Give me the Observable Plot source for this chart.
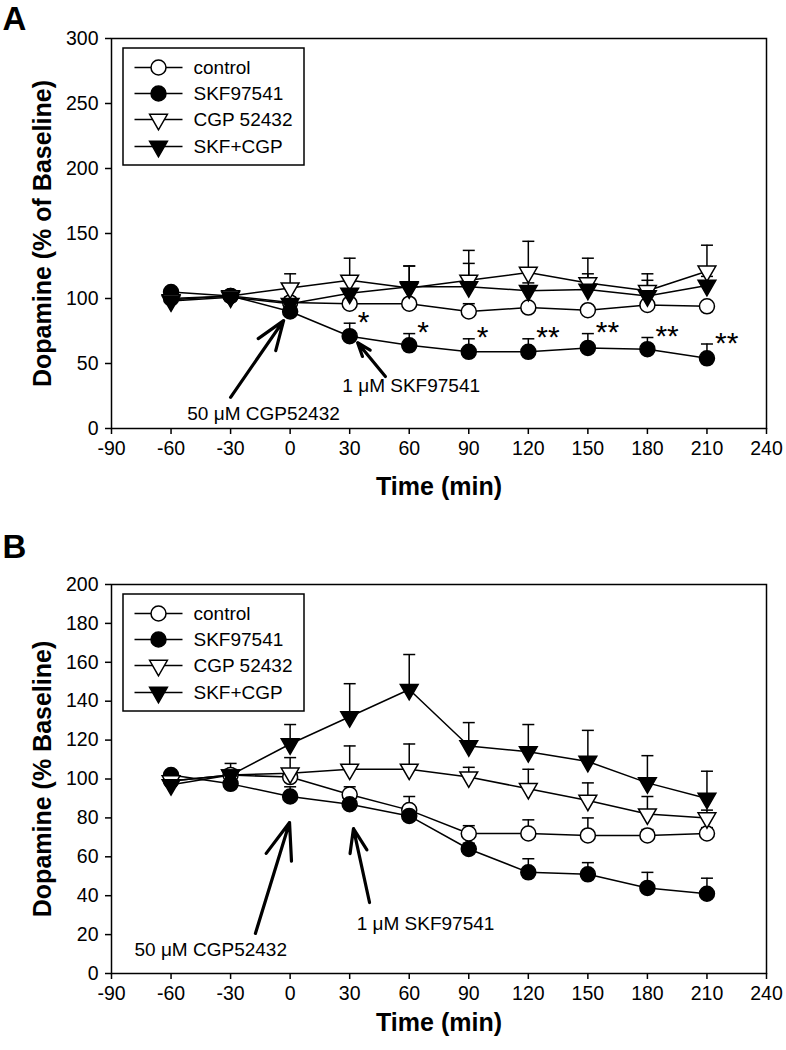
<!DOCTYPE html>
<html><head><meta charset="utf-8">
<script src="https://cdn.jsdelivr.net/npm/d3@7"></script>
<script src="https://cdn.jsdelivr.net/npm/@observablehq/plot@0.6"></script>
<style>
body{margin:0;background:#fff}
#chart svg{display:block}
</style>
</head><body><div id="chart"></div>
<script>
// ---------- data ----------
const times = [-60, -30, 0, 30, 60, 90, 120, 150, 180, 210];
const seriesNames = ["control", "SKF97541", "CGP 52432", "SKF+CGP"];
const xTicks = [-90, -60, -30, 0, 30, 60, 90, 120, 150, 180, 210, 240];
const yTicksA = [0, 50, 100, 150, 200, 250, 300];
const yTicksB = [0, 20, 40, 60, 80, 100, 120, 140, 160, 180, 200];

// Panel A
const A_control     = [100, 102, 97, 96, 96, 90, 93, 91, 95, 94];
const A_control_err = [2, 2, 4, 3, 3, 6, 3, 3, 3, 2];
const A_skf         = [105, 102, 90, 71, 64, 59, 59, 62, 61, 54];
const A_skf_err     = [3, 3, 3, 10, 9, 10, 10, 11, 9, 11];
const A_cgp         = [99, 102, 108, 114, 108, 114, 120, 112, 106, 121];
const A_cgp_err     = [3, 3, 11, 17, 17, 23, 24, 19, 13, 20];
const A_skfcgp      = [98, 101, 96, 104, 109, 109, 106, 107, 102, 110];
const A_skfcgp_err  = [3, 3, 4, 9, 16, 18, 6, 12, 12, 7];
const A_stars       = ["", "", "", "*", "*", "*", "**", "**", "**", "**"];

// Panel B
const B_control     = [99, 102, 101, 92, 84, 72, 72, 71, 71, 72];
const B_control_err = [2, 2, 3, 4, 7, 4, 7, 9, 3, 3];
const B_skf         = [102, 97.5, 91, 87, 81, 64, 52, 51, 44, 41];
const B_skf_err     = [2, 2, 5, 3, 3, 3, 7, 6, 8, 8];
const B_cgp         = [99, 102, 103, 105, 105, 101, 95, 89, 82, 80];
const B_cgp_err     = [2, 3, 8, 12, 13, 5, 10, 9, 9, 4];
const B_skfcgp      = [97, 102, 118, 132, 146, 117, 114, 109, 98, 90];
const B_skfcgp_err  = [2, 6, 10, 17, 18, 12, 14, 16, 14, 14];

// ---------- styles ----------
const FONT = "'Liberation Sans', Arial, Helvetica, sans-serif";
const markerStyle = {
  "control":   {symbol: "circle",   fill: "white", r: 7.5, rotate: 0},
  "SKF97541":  {symbol: "circle",   fill: "black", r: 7.5, rotate: 0},
  "CGP 52432": {symbol: "triangle", fill: "white", r: 6.6, rotate: 180},
  "SKF+CGP":   {symbol: "triangle", fill: "black", r: 6.6, rotate: 180}
};
const capSymbol = {draw(ctx, size) { const w = 6; ctx.moveTo(-w, 0); ctx.lineTo(w, 0); }};

function buildRows(vals, errs) {
  const rows = [];
  seriesNames.forEach((s, k) => {
    times.forEach((t, i) => rows.push({series: s, t, v: vals[k][i], e: errs[k][i]}));
  });
  return rows;
}

function panel(cfg) {
  const W = 786, ml = 111, mr = 20;
  const pw = W - ml - mr, ph = cfg.height - cfg.mt - cfg.mb;
  const xd = [-90, 240], yd = cfg.yDomain;
  // convert pixel offset from frame top-left to data coords (legend placement)
  const px2x = p => xd[0] + p / pw * (xd[1] - xd[0]);
  const py2y = p => yd[1] - p / ph * (yd[1] - yd[0]);

  const rows = buildRows(cfg.vals, cfg.errs);
  const skfRows = rows.filter(d => d.series === "SKF97541").map((d, i) => ({...d, star: cfg.stars ? cfg.stars[i] : ""}));

  const legendRowsPx = [29, 55, 81, 108];
  const legend = seriesNames.map((s, i) => ({series: s, y: py2y(legendRowsPx[i])}));

  const marks = [
    Plot.frame({stroke: "black", strokeWidth: 1.5}),
    Plot.axisX({ticks: xTicks, tickSize: 6, tickPadding: 7, tickFormat: d => String(d), fontSize: 19.5, label: null, strokeWidth: 1.5}),
    Plot.axisY({ticks: cfg.yTicks, tickSize: 6, tickPadding: 7, tickFormat: d => String(d), fontSize: 19.5, label: null, strokeWidth: 1.5}),
    // legend box
    Plot.rect([0], {x1: px2x(12), x2: px2x(193), y1: py2y(10), y2: py2y(127), fill: "white", stroke: "black", strokeWidth: 1.5}),
    Plot.link(legend, {x1: px2x(23), x2: px2x(71), y1: "y", y2: "y", stroke: "black", strokeWidth: 1.5}),
    Plot.text(legend, {x: px2x(82), y: "y", text: "series", textAnchor: "start", lineAnchor: "middle", fontSize: 19, fill: "black"}),
    // data lines
    Plot.line(rows, {x: "t", y: "v", z: "series", stroke: "black", strokeWidth: 1.5}),
    // error bars (upper only)
    Plot.ruleX(rows, {x: "t", y1: "v", y2: d => d.v + d.e, stroke: "black", strokeWidth: 1.5}),
    Plot.dot(rows, {x: "t", y: d => d.v + d.e, symbol: capSymbol, r: 6, fill: "none", stroke: "black", strokeWidth: 1.5}),
  ];
  for (const s of seriesNames) {
    const st = markerStyle[s];
    marks.push(Plot.dot(rows.filter(d => d.series === s), {x: "t", y: "v", symbol: st.symbol, r: st.r, rotate: st.rotate, fill: st.fill, stroke: "black", strokeWidth: 1.5}));
    marks.push(Plot.dot(legend.filter(d => d.series === s), {x: px2x(47), y: "y", symbol: st.symbol, r: st.r, rotate: st.rotate, fill: st.fill, stroke: "black", strokeWidth: 1.5}));
  }
  if (cfg.stars) {
    marks.push(Plot.text(skfRows.filter(d => d.star), {x: "t", y: d => d.v + d.e, text: "star", dx: 8, dy: -1, textAnchor: "start", lineAnchor: "middle", fontSize: 30, fill: "black"}));
  }
  // annotations
  marks.push(Plot.arrow(cfg.arrows, {x1: "x1", y1: "y1", x2: "x2", y2: "y2", stroke: "black", strokeWidth: 3.2, headLength: 19, headAngle: 40, bend: 0}));
  marks.push(Plot.text(cfg.notes, {x: "x", y: "y", text: "text", textAnchor: "middle", lineAnchor: "middle", fontSize: 19, fill: "black"}));
  // titles
  marks.push(Plot.text([cfg.yTitle], {frameAnchor: "left", dx: -69, rotate: -90, fontSize: 25, fontWeight: "bold", fill: "black", textAnchor: "middle", lineAnchor: "middle"}));
  marks.push(Plot.text(["Time (min)"], {frameAnchor: "bottom", dy: cfg.xTitleOffset, fontSize: 25, fontWeight: "bold", fill: "black", textAnchor: "middle", lineAnchor: "middle"}));
  marks.push(Plot.text([cfg.letter], {frameAnchor: "top-left", dx: -109, dy: cfg.letterDy, fontSize: 33, fontWeight: "bold", fill: "black", textAnchor: "start", lineAnchor: "middle"}));

  return Plot.plot({
    width: W, height: cfg.height,
    marginLeft: ml, marginRight: mr, marginTop: cfg.mt, marginBottom: cfg.mb,
    x: {domain: xd},
    y: {domain: yd},
    style: {fontFamily: FONT, fontSize: "19px", color: "black", background: "white", overflow: "visible"},
    marks
  });
}

const chartA = panel({
  height: 525, mt: 38, mb: 97, yDomain: [0, 300], yTicks: yTicksA,
  vals: [A_control, A_skf, A_cgp, A_skfcgp], errs: [A_control_err, A_skf_err, A_cgp_err, A_skfcgp_err],
  stars: A_stars,
  yTitle: "Dopamine (% of Baseline)", xTitleOffset: 58, letter: "A", letterDy: -19,
  arrows: [{x1: -30, y1: 24, x2: -3.3, y2: 83}, {x1: 48, y1: 40, x2: 34, y2: 66}],
  notes: [{x: -13.4, y: 11.5, text: "50 μM CGP52432"}, {x: 61, y: 33, text: "1 μM SKF97541"}]
});
const chartB = panel({
  height: 525, mt: 59, mb: 77, yDomain: [0, 200], yTicks: yTicksB,
  vals: [B_control, B_skf, B_cgp, B_skfcgp], errs: [B_control_err, B_skf_err, B_cgp_err, B_skfcgp_err],
  stars: null,
  yTitle: "Dopamine (% Baseline)", xTitleOffset: 49, letter: "B", letterDy: -37,
  arrows: [{x1: -17.5, y1: 20.6, x2: -0.3, y2: 77.6}, {x1: 40, y1: 36.5, x2: 31.9, y2: 74.5}],
  notes: [{x: -40, y: 12, text: "50 μM CGP52432"}, {x: 68.2, y: 25.7, text: "1 μM SKF97541"}]
});
document.getElementById("chart").append(chartA, chartB);
</script>
</body></html>
